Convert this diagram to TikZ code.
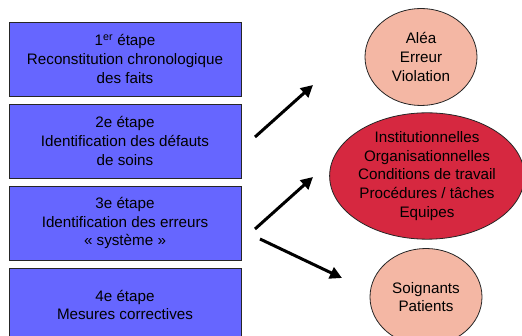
\documentclass[tikz,border=0pt]{standalone}
\usepackage{fontspec}
\setmainfont{Liberation Sans}
\usetikzlibrary{shapes.geometric,arrows.meta}
\definecolor{etapeblue}{RGB}{102,102,255}
\definecolor{causered}{RGB}{214,40,64}
\definecolor{causesalmon}{RGB}{244,183,164}
\begin{document}
\begin{tikzpicture}[x=1pt,y=-1pt,line width=0.8pt]
	\def \boxcol{125}
	\def \ovalcol{424}
	\tikzstyle{etape}=[rectangle,draw=black!85,fill=etapeblue,minimum width=232pt,minimum height=74pt,inner sep=2pt,align=center]
	\tikzstyle{oval}=[ellipse,draw=black!85,fill=causesalmon,minimum width=112pt,minimum height=97pt,inner sep=0pt,align=center]
	\tikzstyle{bigoval}=[ellipse,draw=black!85,fill=causered,minimum width=190pt,minimum height=126pt,inner sep=0pt,align=center]
	\tikzstyle{fleche}=[line width=3pt,-{Triangle[length=12pt,width=12pt]}]
	\useasboundingbox (0,0) rectangle (522,336);
	\fontsize{15.2pt}{18.8pt}\selectfont
	% etapes
	\node[etape] (e1) at (\boxcol,59)  {1\textsuperscript{er} étape\\Reconstitution chronologique\\des faits};
	\node[etape] (e2) at (\boxcol,141) {2e étape\\Identification des défauts\\de soins};
	\node[etape] (e3) at (\boxcol,223) {3e étape\\Identification des erreurs\\« système »};
	\node[etape] (e4) at (\boxcol,305) {4e étape\\Mesures correctives};

	% causes
	\node[oval]    (alea)  at (421,57)  {Aléa\\Erreur\\Violation};
	\node[bigoval] (orga)  at (427,176) {Institutionnelles\\Organisationnelles\\Conditions de travail\\Procédures / tâches\\Equipes};
	\node[oval]    (soign) at (426,297) {Soignants\\Patients};

	% arrow ends
	\coordinate (a1s) at (255,137);
	\coordinate (a1e) at (313,85);
	\coordinate (a2s) at (255,229);
	\coordinate (a2e) at (313,177);
	\coordinate (a3s) at (260,239);
	\coordinate (a3e) at (342,278);

	\path
		(a1s)	edge[fleche]	(a1e)
		(a2s)	edge[fleche]	(a2e)
		(a3s)	edge[fleche]	(a3e);
\end{tikzpicture}
\end{document}
